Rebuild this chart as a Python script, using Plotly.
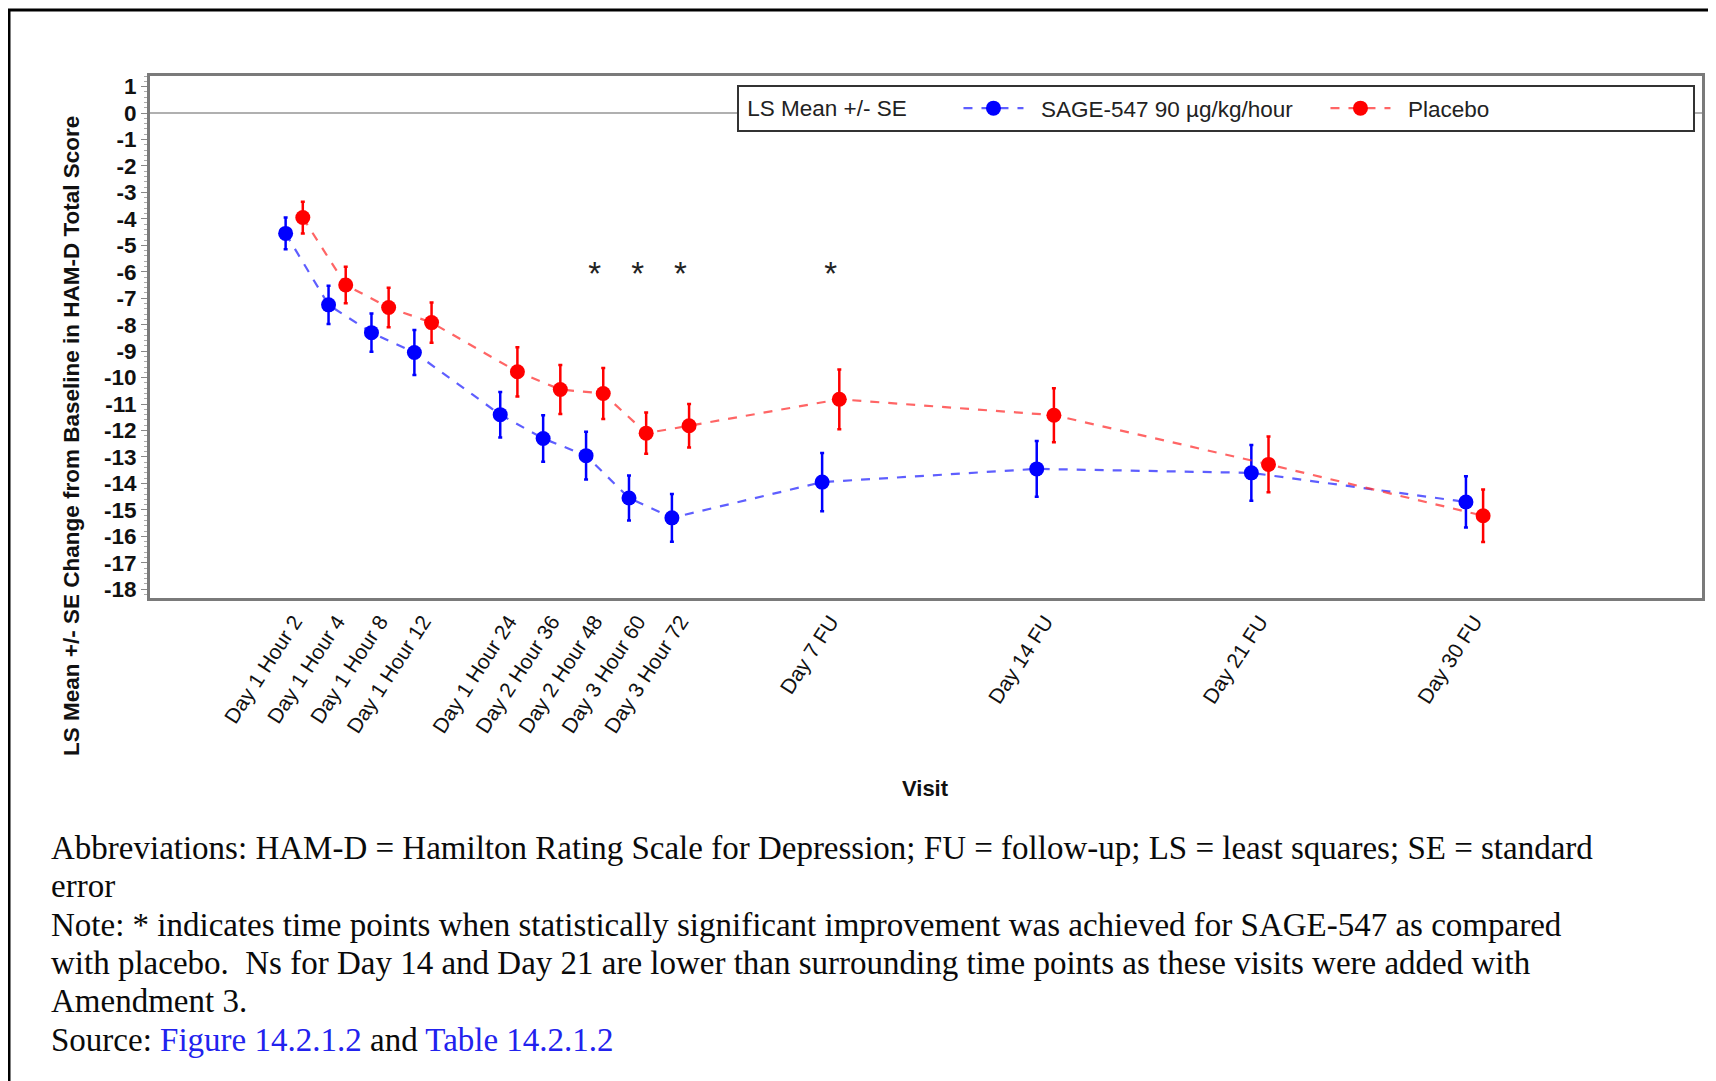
import plotly.graph_objects as go

# ---------------- data ----------------
visits = ["Day 1 Hour 2", "Day 1 Hour 4", "Day 1 Hour 8", "Day 1 Hour 12",
          "Day 1 Hour 24", "Day 2 Hour 36", "Day 2 Hour 48", "Day 3 Hour 60",
          "Day 3 Hour 72", "Day 7 FU", "Day 14 FU", "Day 21 FU", "Day 30 FU"]
visit_pos = [0, 1, 2, 3, 5, 6, 7, 8, 9, 12.5, 17.5, 22.5, 27.5]

sage_mean = [-4.55, -7.25, -8.3, -9.05, -11.4, -12.3, -12.95, -14.55, -15.3,
             -13.95, -13.45, -13.6, -14.7]
sage_se = [0.6, 0.72, 0.72, 0.85, 0.86, 0.88, 0.9, 0.85, 0.9, 1.1, 1.05, 1.05, 0.97]

placebo_mean = [-3.95, -6.5, -7.35, -7.92, -9.78, -10.45, -10.6, -12.1, -11.82,
                -10.82, -11.42, -13.28, -15.22]
placebo_se = [0.6, 0.69, 0.75, 0.76, 0.93, 0.93, 0.96, 0.78, 0.82, 1.13, 1.02, 1.05, 0.99]

sig_visits = ["Day 2 Hour 48", "Day 3 Hour 60", "Day 3 Hour 72", "Day 7 FU"]
sig_marker_y = -6.2

y_ticks = list(range(1, -19, -1))

sage_label = "SAGE-547 90 µg/kg/hour"
placebo_label = "Placebo"
legend_title = "LS Mean +/- SE"

footnotes = [
    "Abbreviations: HAM-D = Hamilton Rating Scale for Depression; FU = follow-up; LS = least squares; SE = standard",
    "error",
    "Note: * indicates time points when statistically significant improvement was achieved for SAGE-547 as compared",
    "with placebo.  Ns for Day 14 and Day 21 are lower than surrounding time points as these visits were added with",
    "Amendment 3.",
    "Source: <span style='color:#2222ee'>Figure 14.2.1.2</span> and <span style='color:#2222ee'>Table 14.2.1.2</span>",
]

# ---------------- figure ----------------
PAGE_OFF = 8                 # browser body margin
W, H = 1708, 1073
L, T = 150 - PAGE_OFF, 76 - PAGE_OFF
PW, PH = 1552, 522
R, B = W - L - PW, H - T - PH
SANS = "Liberation Sans, Arial, sans-serif"
SERIF = "Liberation Serif, Times New Roman, serif"
NB = "\u00a0"
off = 0.2

fig = go.Figure()

fig.add_trace(go.Scatter(
    x=[p - off for p in visit_pos], y=sage_mean,
    error_y=dict(type="data", array=sage_se, color="#0000ff", thickness=2.5, width=2),
    mode="lines+markers", name=NB * 2 + sage_label,
    line=dict(color="rgba(40,40,255,0.75)", width=2.2, dash="dash"),
    marker=dict(color="#0000ff", size=15, symbol="circle"),
))
fig.add_trace(go.Scatter(
    x=[p + off for p in visit_pos], y=placebo_mean,
    error_y=dict(type="data", array=placebo_se, color="#ff0000", thickness=2.5, width=2),
    mode="lines+markers", name=NB * 2 + placebo_label,
    line=dict(color="rgba(255,50,50,0.75)", width=2.2, dash="dash"),
    marker=dict(color="#ff0000", size=15, symbol="circle"),
))
fig.add_trace(go.Scatter(
    x=[visit_pos[visits.index(v)] for v in sig_visits],
    y=[sig_marker_y] * len(sig_visits),
    mode="text", text=["*"] * len(sig_visits), textposition="middle center",
    textfont=dict(size=33, color="#222", family=SANS),
    showlegend=False, hoverinfo="skip",
))

fig.update_xaxes(
    range=[-3.36, 32.8], tickmode="array", tickvals=visit_pos, ticktext=visits,
    tickangle=-57, tickfont=dict(family=SANS, size=21, color="#111"),
    showgrid=False, zeroline=False, showline=True, mirror=True,
    linecolor="#7a7a7a", linewidth=3, ticks="",
)
fig.update_yaxes(
    range=[-18.33, 1.4], tickmode="array", tickvals=y_ticks,
    ticktext=[str(v) for v in y_ticks],
    tickfont=dict(family=SANS, size=22.5, color="#111", weight="bold"),
    showgrid=False, zeroline=True, zerolinecolor="#b0b0b0", zerolinewidth=2,
    showline=True, mirror=True, linecolor="#7a7a7a", linewidth=3,
    ticks="outside", ticklen=6, tickcolor="#888", tickwidth=1,
    minor=dict(ticks="outside", ticklen=3, dtick=0.2, tickcolor="#aaa", tickwidth=1),
)

fig.update_layout(
    width=W, height=H, margin=dict(l=L, r=R, t=T, b=B, autoexpand=False),
    paper_bgcolor="white", plot_bgcolor="white",
    font=dict(family=SANS, color="#111"),
    showlegend=True,
    legend=dict(
        orientation="h", x=(737 - 150) / PW, y=(598 - 85) / PH,
        xanchor="left", yanchor="top",
        bgcolor="white", bordercolor="#333", borderwidth=2,
        font=dict(family=SANS, size=22.5, color="#222"),
        title=dict(text=NB + legend_title + NB * 7,
                   font=dict(family=SANS, size=22.5, color="#222")),
        itemwidth=60, entrywidth=292,
    ),
)


def px_x(x):
    # page pixel -> paper coordinate
    return (x - PAGE_OFF - L) / PW


def px_y(y):
    return (T + PH - (y - PAGE_OFF)) / PH


# axis titles
fig.add_annotation(
    x=px_x(71), y=px_y(436), xref="paper", yref="paper",
    text="<b>LS Mean +/- SE Change from Baseline in HAM-D Total Score</b>",
    textangle=-90, showarrow=False, xanchor="center", yanchor="middle",
    font=dict(family=SANS, size=22.5, color="#111"),
)
fig.add_annotation(
    x=px_x(925), y=px_y(788), xref="paper", yref="paper",
    text="<b>Visit</b>", showarrow=False, xanchor="center", yanchor="middle",
    font=dict(family=SANS, size=22, color="#111"),
)

# footnotes
foot_y = [848, 886, 925, 963, 1001, 1040]
for txt, yy in zip(footnotes, foot_y):
    fig.add_annotation(
        x=px_x(49), y=px_y(yy), xref="paper", yref="paper",
        text=txt, showarrow=False, xanchor="left", yanchor="middle",
        font=dict(family=SERIF, size=33, color="#0a0a0a"),
    )

# outer frame
fig.add_shape(type="rect", xref="paper", yref="paper",
              x0=px_x(9), x1=px_x(1710), y0=px_y(1100), y1=px_y(10),
              line=dict(color="black", width=3), fillcolor="rgba(0,0,0,0)", layer="above")

fig.write_html("out.html")
